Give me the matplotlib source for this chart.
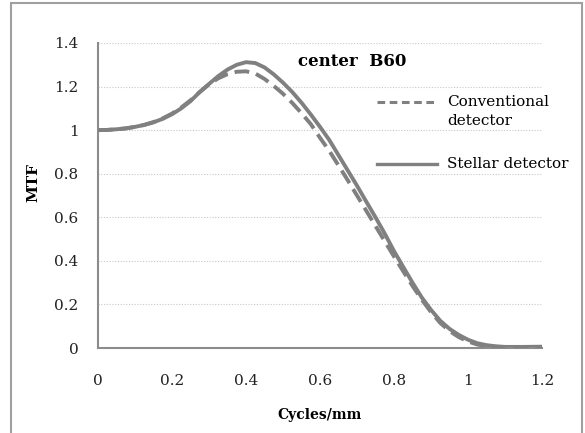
import matplotlib as mpl
mpl.use('agg')
import matplotlib.pyplot as plt
from matplotlib.patches import Rectangle

# MTF readings (cycles/mm vs MTF)
freq = [0.0, 0.025, 0.05, 0.075, 0.1, 0.125, 0.15, 0.175, 0.2, 0.225, 0.25,
        0.275, 0.3, 0.325, 0.35, 0.375, 0.4, 0.425, 0.45, 0.475, 0.5, 0.525,
        0.55, 0.575, 0.6, 0.625, 0.65, 0.675, 0.7, 0.725, 0.75, 0.775, 0.8,
        0.825, 0.85, 0.875, 0.9, 0.925, 0.95, 0.975, 1.0, 1.025, 1.05, 1.075,
        1.1, 1.15, 1.2]
mtf_conventional = [1.000, 1.001, 1.004, 1.008, 1.015, 1.024, 1.037, 1.054,
                    1.076, 1.104, 1.137, 1.175, 1.210, 1.238, 1.257, 1.268,
                    1.270, 1.260, 1.235, 1.203, 1.167, 1.125, 1.078, 1.028,
                    0.965, 0.905, 0.838, 0.770, 0.700, 0.630, 0.560, 0.490,
                    0.420, 0.352, 0.285, 0.222, 0.165, 0.115, 0.078, 0.050,
                    0.030, 0.016, 0.008, 0.004, 0.003, 0.004, 0.005]
mtf_stellar = [1.000, 1.001, 1.004, 1.008, 1.015, 1.024, 1.036, 1.052, 1.073,
               1.100, 1.133, 1.175, 1.212, 1.248, 1.278, 1.300, 1.312, 1.308,
               1.288, 1.256, 1.218, 1.175, 1.126, 1.072, 1.015, 0.955, 0.885,
               0.815, 0.745, 0.672, 0.600, 0.525, 0.445, 0.372, 0.300, 0.232,
               0.175, 0.125, 0.088, 0.060, 0.038, 0.022, 0.013, 0.008, 0.005,
               0.005, 0.006]
x_ticks = [0, 0.2, 0.4, 0.6, 0.8, 1, 1.2]
x_labels = ['0', '0.2', '0.4', '0.6', '0.8', '1', '1.2']
y_ticks = [0, 0.2, 0.4, 0.6, 0.8, 1, 1.2, 1.4]
y_labels = ['0', '0.2', '0.4', '0.6', '0.8', '1', '1.2', '1.4']

gray = '#808080'
plt.rcParams['font.family'] = 'DejaVu Serif'

fig = plt.figure(figsize=(5.85, 4.33), dpi=100)
# outer chart frame (bottom edge runs off the image)
fig.patches.append(Rectangle((11 / 585, -0.05), 571 / 585, 1.05 - 3 / 433,
                             transform=fig.transFigure, fill=False,
                             edgecolor='#a0a0a0', linewidth=1.5))

ax = fig.add_axes([98 / 585, 1 - 348 / 433, 444 / 585, 305 / 433])
ax.plot(freq, mtf_conventional, color=gray, linewidth=2.8,
        dashes=(3.8, 1.8), zorder=3)
ax.plot(freq, mtf_stellar, color=gray, linewidth=2.8, zorder=2)

ax.set_xlim(0, 1.2)
ax.set_ylim(0, 1.4)
ax.set_xticks(x_ticks)
ax.set_xticklabels(x_labels)
ax.set_yticks(y_ticks)
ax.set_yticklabels(y_labels)
ax.tick_params(length=0, labelsize=11, colors='#222222')
ax.tick_params(axis='x', pad=19)
ax.tick_params(axis='y', pad=14)
ax.grid(axis='y', color='#c8c8c8', linestyle=(0, (1, 1.5)), linewidth=0.8)
for side in ['top', 'right']:
    ax.spines[side].set_visible(False)
for side in ['left', 'bottom']:
    ax.spines[side].set_color('#8c8c8c')
    ax.spines[side].set_linewidth(1.5)

ax.set_xlabel('Cycles/mm', fontsize=10, fontweight='bold', labelpad=14)
ax.set_ylabel('MTF', fontsize=11, fontweight='bold')
ax.yaxis.set_label_coords(-0.13, 0.541)
ax.text(0.54, 1.313, 'center  B60', fontsize=12, fontweight='bold',
        va='center', ha='left')

# legend drawn by hand so the dashed sample sits on the first text line
ax.plot([0.628, 0.764], [0.807, 0.807], transform=ax.transAxes,
        color=gray, linewidth=2.2, dashes=(2.5, 1.5), clip_on=False)
ax.text(0.786, 0.807, 'Conventional', transform=ax.transAxes,
        fontsize=11, va='center', ha='left')
ax.text(0.786, 0.744, 'detector', transform=ax.transAxes,
        fontsize=11, va='center', ha='left')
ax.plot([0.628, 0.764], [0.603, 0.603], transform=ax.transAxes,
        color=gray, linewidth=2.4, clip_on=False)
ax.text(0.786, 0.603, 'Stellar detector', transform=ax.transAxes,
        fontsize=11, va='center', ha='left')

fig.savefig('out.png', dpi=100)
